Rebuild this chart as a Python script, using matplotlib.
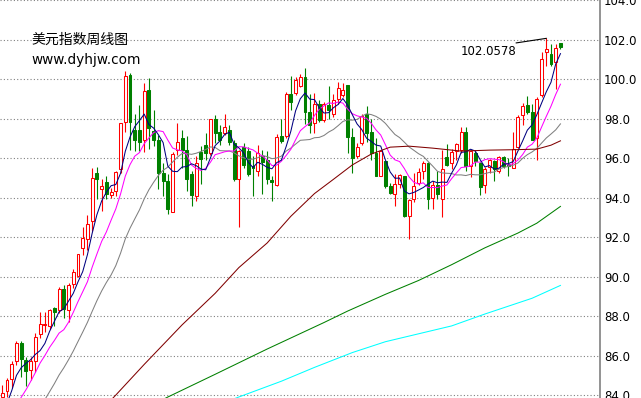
import numpy as np
import pandas as pd
import matplotlib
matplotlib.use("Agg")
import matplotlib.pyplot as plt

# Weekly candles, US dollar index
opens = [83.88, 84.18, 84.82, 85.72, 86.65, 85.78, 85.25, 85.72, 87.08, 87.55,
         87.52, 88.42, 88.32, 89.35, 88.32, 89.62, 90.02, 91.42, 91.90, 92.80,
         95.25, 94.45, 94.80, 94.13, 94.33, 95.42, 97.83, 100.20, 97.42, 97.42,
         96.90, 99.42, 97.35, 96.92, 95.25, 94.83, 93.28, 96.42, 97.00, 96.42,
         95.17, 94.08, 96.28, 96.67, 96.25, 97.95, 97.33, 97.25, 97.42, 96.78,
         94.92, 96.58, 96.33, 95.60, 95.33, 96.12, 95.92, 94.88, 94.62, 97.12,
         97.12, 99.22, 99.28, 99.67, 100.08, 98.33, 97.75, 98.75, 97.92, 98.67,
         98.25, 99.00, 99.20, 99.70, 97.05, 96.12, 96.78, 98.22, 97.33, 96.25,
         95.08, 95.83, 94.58, 94.17, 94.67, 95.08, 93.05, 93.92, 94.72, 95.33,
         95.75, 93.97, 94.63, 93.92, 96.05, 95.75, 96.33, 96.42, 97.33, 95.58,
         96.25, 95.75, 94.62, 95.55, 95.83, 95.33, 96.05, 95.70, 95.50, 96.55,
         98.17, 98.67, 98.33, 97.00, 99.17, 101.38, 101.28, 100.88, 101.80]
highs = [84.50, 84.85, 85.72, 86.75, 86.72, 85.95, 85.92, 87.15, 88.18, 88.20,
         88.38, 88.48, 89.45, 89.55, 89.65, 90.40, 91.15, 92.52, 93.10, 95.50,
         95.53, 94.92, 95.08, 94.50, 95.33, 97.75, 100.40, 100.30, 98.25, 98.70,
         99.80, 100.05, 98.42, 97.17, 95.75, 95.17, 96.28, 97.78, 97.42, 97.12,
         95.33, 96.08, 96.62, 97.25, 98.00, 98.17, 97.67, 98.25, 97.67, 96.92,
         96.40, 96.75, 96.58, 96.08, 96.67, 96.40, 96.33, 95.08, 97.22, 98.00,
         99.33, 100.17, 100.08, 100.25, 100.55, 99.25, 99.28, 98.92, 98.83, 99.67,
         99.25, 99.83, 99.78, 99.70, 97.50, 96.75, 98.22, 98.62, 98.00, 97.00,
         96.42, 95.83, 94.75, 95.17, 95.17, 95.08, 93.92, 95.25, 95.50, 95.83,
         95.78, 94.83, 95.33, 96.42, 96.72, 96.45, 96.78, 97.55, 97.58, 96.42,
         96.33, 95.78, 95.55, 95.95, 95.88, 96.08, 96.12, 96.00, 97.33, 98.17,
         98.78, 99.12, 98.75, 99.08, 101.38, 102.0578, 101.78, 101.75, 101.83]
lows = [83.80, 83.90, 84.37, 85.50, 84.92, 84.48, 84.75, 85.18, 86.88, 87.20,
        87.32, 87.52, 88.15, 87.92, 87.72, 89.40, 89.98, 91.10, 91.33, 92.30,
        93.90, 93.30, 93.92, 94.00, 94.08, 95.25, 97.33, 96.40, 96.35, 96.35,
        96.30, 96.45, 96.60, 94.42, 94.08, 93.17, 93.28, 96.17, 95.50, 94.33,
        93.55, 93.83, 94.67, 95.92, 96.17, 96.75, 96.67, 97.17, 96.67, 94.83,
        92.50, 95.50, 95.08, 94.08, 95.08, 94.20, 94.67, 93.83, 94.58, 96.75,
        97.00, 98.42, 99.17, 99.58, 97.70, 97.25, 97.28, 97.83, 97.83, 98.00,
        98.08, 98.75, 99.10, 96.25, 95.25, 96.00, 96.67, 96.83, 95.92, 95.08,
        95.08, 94.50, 94.17, 93.58, 94.50, 93.00, 91.92, 93.75, 94.62, 94.95,
        93.42, 93.42, 93.92, 93.00, 95.58, 95.45, 95.88, 96.25, 95.33, 95.05,
        95.58, 94.12, 94.25, 95.25, 94.83, 95.25, 95.50, 95.08, 95.50, 96.50,
        97.67, 98.25, 96.92, 95.92, 99.08, 100.67, 100.67, 99.50, 101.50]
closes = [84.12, 84.78, 85.58, 86.62, 85.82, 85.22, 85.72, 86.92, 87.58, 87.62,
          88.28, 88.22, 89.35, 88.35, 89.58, 90.23, 91.13, 91.95, 92.65, 95.00,
          94.92, 94.60, 94.17, 94.30, 95.30, 97.75, 100.17, 97.80, 96.92, 96.83,
          99.40, 97.50, 96.92, 95.25, 94.83, 93.42, 96.22, 96.83, 96.42, 94.95,
          94.12, 95.75, 95.95, 96.25, 97.95, 97.25, 96.92, 97.58, 96.83, 94.92,
          96.33, 95.67, 95.17, 95.50, 96.25, 95.80, 94.92, 94.80, 97.05, 96.88,
          99.22, 98.83, 99.95, 100.12, 98.33, 97.67, 98.72, 97.92, 98.75, 98.42,
          98.92, 99.55, 99.42, 97.08, 96.00, 96.58, 98.12, 97.25, 96.25, 95.08,
          96.33, 94.58, 94.22, 94.67, 95.12, 93.05, 93.87, 94.58, 95.28, 95.75,
          93.92, 94.62, 94.17, 95.45, 95.67, 96.28, 96.70, 97.33, 95.58, 96.33,
          95.83, 94.55, 95.45, 95.92, 95.45, 96.05, 95.58, 95.58, 96.45, 98.08,
          98.62, 98.33, 96.92, 99.00, 101.00, 101.50, 100.75, 101.55, 101.62]

# closes of the weeks before the first candle (needed for the short averages)
prior_closes = [79.50, 79.90, 80.00, 80.40, 80.40, 80.60, 80.50, 80.40, 80.10, 80.30,
                80.15, 80.57, 81.03, 81.43, 81.44, 81.47, 82.38, 82.76, 83.89]

# long moving averages, read at a few bar positions
ma_red_idx = [20, 24, 30, 38, 45, 50, 56, 61, 66, 70, 74, 78, 82, 86, 91, 97, 103, 108, 113, 116, 118]
ma_red_val = [83.0, 84.0, 85.55, 87.55, 89.15, 90.45, 91.7, 93.05, 94.2, 94.92, 95.65,
              96.2, 96.55, 96.6, 96.5, 96.35, 96.4, 96.42, 96.45, 96.65, 96.87]
ma_green_idx = [30, 35, 45, 56, 68, 73, 81, 88, 95, 102, 109, 113, 118]
ma_green_val = [83.3, 83.9, 85.05, 86.33, 87.67, 88.25, 89.1, 89.8, 90.6, 91.45, 92.2, 92.7, 93.55]
ma_cyan_idx = [45, 50, 59, 66, 74, 81, 88, 95, 102, 112, 118]
ma_cyan_val = [83.45, 83.9, 84.7, 85.4, 86.15, 86.7, 87.1, 87.5, 88.1, 88.9, 89.55]

y_ticks = np.arange(84, 105, 2)

UP = "#ff0000"
DOWN = "#008000"

fig = plt.figure(figsize=(6.41, 3.98), dpi=100)
ax = fig.add_axes([0, 0, 600 / 641, 1])

o = np.array(opens)
h = np.array(highs)
l = np.array(lows)
c = np.array(closes)
x = np.arange(len(c))
up = c >= o
cols = np.where(up, UP, DOWN)

# wicks then bodies (red hollow, green filled)
ax.vlines(x, l, h, colors=cols, lw=0.8, zorder=2)
body_low = np.minimum(o, c)
body_h = np.maximum(np.abs(c - o), 0.03)
ax.bar(x, body_h, bottom=body_low, width=0.62,
       color=np.where(up, "white", DOWN), edgecolor=cols, linewidth=0.75, zorder=3)

# moving averages from closes
allc = pd.Series(prior_closes + closes)
k = len(prior_closes)
for win, col in [(20, "#808080"), (10, "#ff00ff"), (5, "#000080")]:
    ma = allc.rolling(win).mean().values[k:]
    ax.plot(x, ma, color=col, lw=0.75, zorder=4)

ax.plot(ma_red_idx, ma_red_val, color="#800000", lw=0.75, zorder=4)
ax.plot(ma_green_idx, ma_green_val, color="#008000", lw=0.75, zorder=4)
ax.plot(ma_cyan_idx, ma_cyan_val, color="#00ffff", lw=0.75, zorder=4)

# high marker
imax = int(np.argmax(h))
hmax = h[imax]
ax.plot([imax - 6.35, imax], [hmax - 0.23, hmax], color="black", lw=0.8, zorder=5)
ax.text(imax - 6.4, hmax - 0.68, f"{hmax:.4f}", ha="right", va="center",
        fontsize=8.5, color="black", zorder=5)

ax.set_xlim(-0.486, 126.36)
ax.set_ylim(83.85, 103.75)
ax.set_xticks([])
ax.set_yticks(y_ticks)
ax.set_yticklabels([f"{v:.1f}" for v in y_ticks])
ax.yaxis.tick_right()
ax.tick_params(axis="y", length=0, pad=3, labelsize=8.5, colors="black")
ax.grid(axis="y", color="#808080", linestyle=(0, (1, 2)), lw=0.8)
ax.set_axisbelow(True)
for s in ["left", "top", "bottom"]:
    ax.spines[s].set_visible(False)
ax.spines["right"].set_color("#808080")
ax.spines["right"].set_linewidth(1.2)

ax.text(0.053, 0.899, "美元指数周线图", transform=ax.transAxes, fontsize=10,
        family=["Noto Sans CJK SC", "DejaVu Sans"], va="center", ha="left")
ax.text(0.053, 0.849, "www.dyhjw.com", transform=ax.transAxes, fontsize=9.8,
        va="center", ha="left")

fig.savefig("out.png", dpi=100, facecolor="white")
